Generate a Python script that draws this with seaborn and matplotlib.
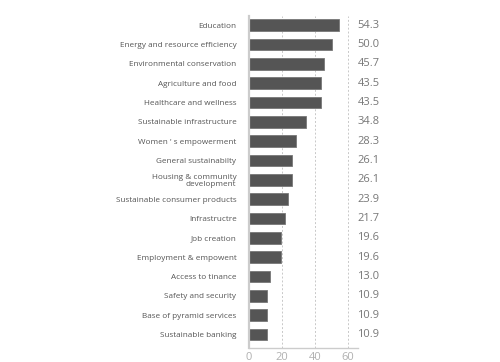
import matplotlib
matplotlib.use("Agg")
import matplotlib.pyplot as plt
import seaborn as sns
import pandas as pd
import matplotlib.transforms as mtransforms

categories = [
    "Education",
    "Energy and resource efficiency",
    "Environmental conservation",
    "Agriculture and food",
    "Healthcare and wellness",
    "Sustainable infrastructure",
    "Women ' s empowerment",
    "General sustainabilty",
    "Housing & community\ndevelopment",
    "Sustainable consumer products",
    "Infrastructre",
    "Job creation",
    "Employment & empowent",
    "Access to tinance",
    "Safety and security",
    "Base of pyramid services",
    "Sustainable banking",
]
values = [54.3, 50.0, 45.7, 43.5, 43.5, 34.8, 28.3, 26.1, 26.1, 23.9, 21.7,
          19.6, 19.6, 13.0, 10.9, 10.9, 10.9]
xticks = [0, 20, 40, 60]

df = pd.DataFrame({"category": categories, "value": values})

sns.set_style("white")
plt.rcParams["font.family"] = ["Open Sans", "DejaVu Sans"]

fig = plt.figure(figsize=(5.0, 3.62), dpi=100)
ax = fig.add_axes([0.498, 0.039, 0.218, 0.918])

sns.barplot(data=df, x="value", y="category", orient="h", color="#555555",
            width=0.6, edgecolor="#777777", linewidth=0.6, ax=ax, saturation=1)

ax.set_xlim(0, 66)
ax.set_ylim(16.7, -0.5)
ax.set_xticks(xticks)
ax.set_xticklabels([str(t) for t in xticks])
ax.set_xlabel("")
ax.set_ylabel("")
ax.xaxis.grid(True, linestyle=(0, (2, 2)), color="#c8c8c8", linewidth=0.7)
ax.set_axisbelow(True)

for s in ["top", "right"]:
    ax.spines[s].set_visible(False)
ax.spines["left"].set_color("#cccccc")
ax.spines["left"].set_linewidth(1.6)
ax.spines["bottom"].set_color("#cccccc")
ax.spines["bottom"].set_linewidth(1.0)

ax.tick_params(axis="y", length=0, pad=9, labelsize=5.9, labelcolor="#555555")
ax.tick_params(axis="x", length=0, pad=3, labelsize=8, labelcolor="#b0b0b0")
for lab in ax.get_yticklabels():
    lab.set_linespacing(1.0)

trans = mtransforms.blended_transform_factory(ax.transAxes, ax.transData)
for i, v in enumerate(values):
    ax.text(0.995, i, f"{v:.1f}", transform=trans, ha="left", va="center",
            fontsize=8, color="#777777", clip_on=False)

fig.savefig("out.png", dpi=100)
